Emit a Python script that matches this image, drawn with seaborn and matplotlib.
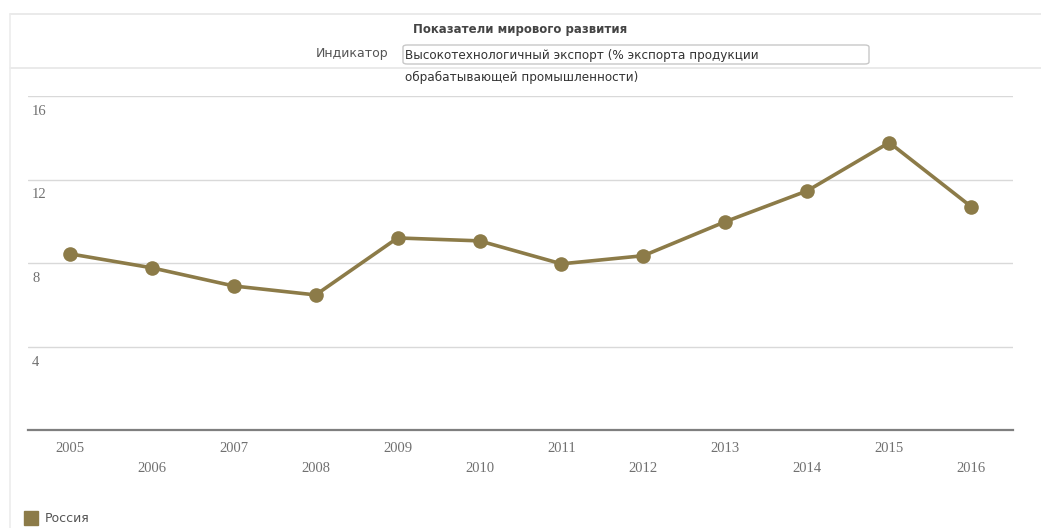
import matplotlib
matplotlib.use("Agg")
import matplotlib.pyplot as plt
from matplotlib.lines import Line2D
from matplotlib.patches import FancyBboxPatch
from matplotlib.transforms import ScaledTranslation
import seaborn as sns
import pandas as pd

years = [2005, 2006, 2007, 2008, 2009, 2010, 2011, 2012, 2013, 2014, 2015, 2016]
russia = [8.44, 7.77, 6.90, 6.47, 9.20, 9.06, 7.96, 8.35, 9.98, 11.46, 13.77, 10.70]
series_name = "Россия"
y_ticks = [4, 8, 12, 16]
title = "Показатели мирового развития"
indicator_label = "Индикатор"
indicator_line1 = "Высокотехнологичный экспорт (% экспорта продукции"
indicator_line2 = "обрабатывающей промышленности)"

COLOR = "#8c7b48"
W, H = 1041, 528

sns.set_style("white")
plt.rcParams["font.family"] = ["DejaVu Sans"]

df = pd.DataFrame({"year": years, "value": russia, "country": series_name})

fig = plt.figure(figsize=(W / 100, H / 100), dpi=100)
ax = fig.add_axes([28 / W, 1 - 430 / H, (1013 - 28) / W, (430 - 96) / H])

sns.lineplot(data=df, x="year", y="value", ax=ax, color=COLOR, linewidth=2.6,
             marker="o", markersize=10.5, markeredgewidth=0, legend=False)

ax.set_xlim(2004.49, 2016.51)
ax.set_ylim(0, 16)
ax.set_xlabel("")
ax.set_ylabel("")
for s in ["top", "right", "left"]:
    ax.spines[s].set_visible(False)
ax.spines["bottom"].set_color("#7f7f7f")
ax.spines["bottom"].set_linewidth(1.6)

ax.set_yticks(y_ticks)
ax.yaxis.grid(True, color="#d9d9d9", linewidth=1.0)
ax.set_axisbelow(True)
ax.tick_params(axis="y", length=0, pad=-3, labelsize=10.5, labelcolor="#707070")
for lab in ax.get_yticklabels():
    lab.set_horizontalalignment("left")
    lab.set_fontfamily("Liberation Serif")
    lab.set_transform(lab.get_transform() + ScaledTranslation(0, -0.14, fig.dpi_scale_trans))

ax.set_xticks(years)
ax.set_xticklabels([str(y) for y in years])
ax.tick_params(axis="x", length=0, pad=9, labelsize=10.5, labelcolor="#707070")
for i, lab in enumerate(ax.get_xticklabels()):
    lab.set_fontfamily("Liberation Serif")
    if i % 2 == 1:
        lab.set_transform(lab.get_transform() + ScaledTranslation(0, -0.19, fig.dpi_scale_trans))

# header frame lines
fig.add_artist(Line2D([10 / W, 1.0], [1 - 14 / H, 1 - 14 / H], color="#e6e6e6", lw=1.2))
fig.add_artist(Line2D([10 / W, 1.0], [1 - 68 / H, 1 - 68 / H], color="#e6e6e6", lw=1.2))
fig.add_artist(Line2D([10 / W, 10 / W], [1 - 14 / H, 0], color="#ececec", lw=1.2))

fig.text(520 / W, 1 - 29 / H, title, ha="center", va="center", fontsize=8.5,
         fontweight="bold", color="#444444")
fig.text(388 / W, 1 - 54 / H, indicator_label, ha="right", va="center", fontsize=9,
         color="#555555")
box = FancyBboxPatch((403 / W, 1 - 64 / H), (869 - 403) / W, 19 / H,
                     boxstyle="round,pad=0,rounding_size=0.004",
                     transform=fig.transFigure, facecolor="white",
                     edgecolor="#c8c8c8", linewidth=1.0)
fig.add_artist(box)
fig.text(405 / W, 1 - 55 / H, indicator_line1, ha="left", va="center", fontsize=8.65,
         color="#333333")
fig.text(405 / W, 1 - 77 / H, indicator_line2, ha="left", va="center", fontsize=8.65,
         color="#333333")

handle = Line2D([], [], color=COLOR, marker="s", linestyle="none", markersize=9.5)
fig.legend([handle], [series_name], loc="center left",
           bbox_to_anchor=(20 / W, 1 - 519 / H), frameon=False, fontsize=9,
           handletextpad=0.55, borderaxespad=0, handlelength=1.0,
           labelcolor="#555555")

fig.savefig("out.png", dpi=100, facecolor="white")
